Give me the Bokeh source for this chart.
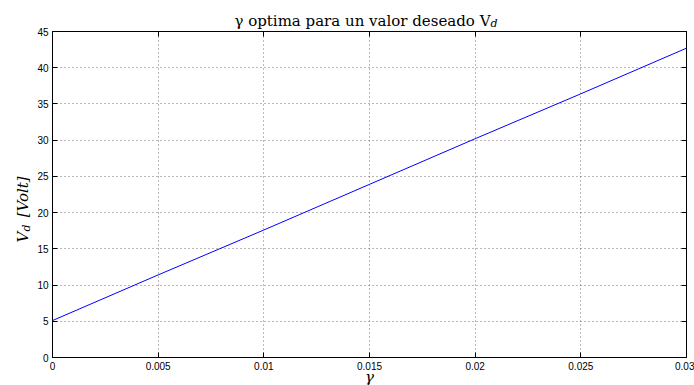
import math
from bokeh.plotting import figure
from bokeh.models import Range1d, FixedTicker, LinearAxis, Label
from bokeh.embed import file_html
from bokeh.resources import INLINE

# data
gamma = [0.0, 0.005, 0.01, 0.015, 0.02, 0.025, 0.03]
vd = [5.1, 11.4, 17.6, 23.9, 30.2, 36.4, 42.7]

x_ticks = [0, 0.005, 0.01, 0.015, 0.02, 0.025, 0.03]
x_tick_labels = ["0", "0.005", "0.01", "0.015", "0.02", "0.025", "0.03"]
y_ticks = [0, 5, 10, 15, 20, 25, 30, 35, 40, 45]

xmin, xmax = 0, 0.03
ymin, ymax = 0, 45

p = figure(width=694, height=385, x_range=Range1d(xmin, xmax), y_range=Range1d(ymin, ymax),
           output_backend="svg", toolbar_location=None,
           min_border_left=52, min_border_right=8, min_border_top=31, min_border_bottom=28)
p.outline_line_color = "black"
p.outline_line_width = 1

p.line(gamma, vd, line_color="#0000ff", line_width=1)

tick_font = "Liberation Sans"

def style_axis(ax, show_labels):
    ax.axis_line_color = "black"
    ax.major_tick_line_color = "black"
    ax.major_tick_in = 5
    ax.major_tick_out = 0
    ax.minor_tick_line_color = None
    ax.major_label_text_font = tick_font
    ax.major_label_text_font_size = "10px"
    ax.major_label_text_color = "black" if show_labels else None
    ax.major_label_standoff = 4

p.xaxis.ticker = FixedTicker(ticks=x_ticks)
p.yaxis.ticker = FixedTicker(ticks=y_ticks)
p.xaxis.major_label_overrides = {t: s for t, s in zip(x_ticks, x_tick_labels)}
for ax in p.xaxis + p.yaxis:
    style_axis(ax, True)

top = LinearAxis(ticker=FixedTicker(ticks=x_ticks))
right = LinearAxis(ticker=FixedTicker(ticks=y_ticks))
style_axis(top, False)
style_axis(right, False)
p.add_layout(top, "above")
p.add_layout(right, "right")

for g in (p.xgrid, p.ygrid):
    g.grid_line_color = "black"
    g.grid_line_alpha = 0.55
    g.grid_line_dash = "1 3"
p.xgrid.ticker = FixedTicker(ticks=x_ticks)
p.ygrid.ticker = FixedTicker(ticks=y_ticks)

xmid = (xmin + xmax) / 2
ymid = (ymin + ymax) / 2
serif = "DejaVu Serif"
ang = math.pi / 2
nbsp = "\u00a0"

# Labels are placed in side panels (not clipped by the frame); they use data
# coordinates, so the panel only decides how much border space they reserve.

# title
p.add_layout(Label(x=xmid, y=ymax, x_offset=121, y_offset=11,
                   text="γ optima para un valor deseado V",
                   text_font=serif, text_font_size="15px", text_align="right",
                   text_baseline="alphabetic", text_color="black"), "above")
p.add_layout(Label(x=xmid, y=ymax, x_offset=121, y_offset=8, text="d",
                   text_font=serif, text_font_style="italic", text_font_size="11px",
                   text_align="left", text_baseline="alphabetic", text_color="black"), "left")

# x label
p.add_layout(Label(x=xmid, y=ymin, y_offset=-19, text="γ",
                   text_font=serif, text_font_style="italic", text_font_size="15px",
                   text_align="center", text_baseline="alphabetic", text_color="black"), "left")

# y label (rotated)
p.add_layout(Label(x=xmin, y=ymid, x_offset=-30, y_offset=-48, text="V" + nbsp * 3 + "[Volt]",
                   angle=ang, text_font=serif, text_font_style="italic", text_font_size="15px",
                   text_align="left", text_baseline="middle", text_color="black"), "left")
p.add_layout(Label(x=xmin, y=ymid, x_offset=-26, y_offset=-37, text="d", angle=ang,
                   text_font=serif, text_font_style="italic", text_font_size="11px",
                   text_align="left", text_baseline="middle", text_color="black"), "below")

open("out.html", "w").write(file_html(p, INLINE))
